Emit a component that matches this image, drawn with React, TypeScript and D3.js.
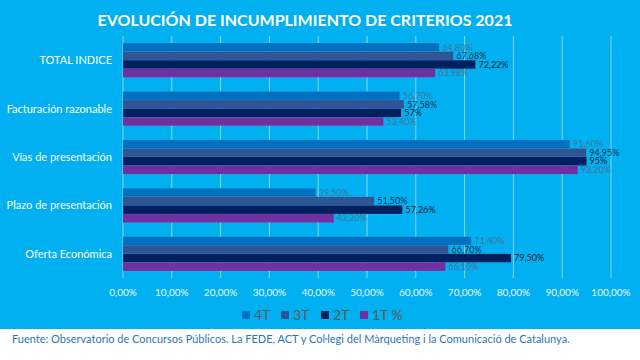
import React from "react";
import * as d3 from "d3";

const categories = [
  "TOTAL INDICE",
  "Facturación razonable",
  "Vías de presentación",
  "Plazo de presentación",
  "Oferta Económica",
];
const seriesNames = ["4T", "3T", "2T", "1T %"];
const s4T = [64.8, 56.7, 91.6, 39.5, 71.4];
const s3T = [67.68, 57.58, 94.95, 51.5, 66.7];
const s2T = [72.22, 57, 95, 57.26, 79.5];
const s1T = [63.98, 53.4, 93.2, 43.2, 66.1];
const seriesLabels4T = ["64,80%", "56,70%", "91,60%", "39,50%", "71,40%"];
const seriesLabels3T = ["67,68%", "57,58%", "94,95%", "51,50%", "66,70%"];
const seriesLabels2T = ["72,22%", "57%", "95%", "57,26%", "79,50%"];
const seriesLabels1T = ["63,98%", "53,40%", "93,20%", "43,20%", "66,10%"];
const xTicks = [0, 10, 20, 30, 40, 50, 60, 70, 80, 90, 100];

const seriesValues = [s4T, s3T, s2T, s1T];
const seriesText = [seriesLabels4T, seriesLabels3T, seriesLabels2T, seriesLabels1T];
const colors = ["#0070C0", "#2F5597", "#002060", "#7030A0"];
const labelColors = ["#44769A", "#12304F", "#0A1C33", "#44769A"];

const FONT = "Lato, 'Open Sans', sans-serif";

export default function App() {
  const x = d3.scaleLinear().domain([0, 100]).range([123, 611]);
  const y = d3
    .scaleBand<string>()
    .domain(categories)
    .range([36, 278])
    .paddingInner(0.29)
    .paddingOuter(0.145);
  const inner = d3
    .scaleBand<string>()
    .domain(seriesNames)
    .range([0, y.bandwidth()]);

  const fmt = (v: number) => d3.format(".2f")(v).replace(".", ",") + "%";

  return (
    <div style={{ position: "fixed", left: 0, top: 0 }}>
      <svg width={640} height={360} style={{ display: "block" }} fontFamily={FONT}>
        <rect x={0} y={0} width={640} height={360} fill="#ffffff" />
        <rect x={0} y={0} width={640} height={329} fill="#00B0F0" />
        <text
          x={305}
          y={26}
          textAnchor="middle"
          fill="#ffffff"
          fontWeight="bold"
          fontSize={16}
        >
          EVOLUCIÓN DE INCUMPLIMIENTO DE CRITERIOS 2021
        </text>
        {xTicks.map((t) => (
          <g key={t}>
            <line
              x1={x(t)}
              x2={x(t)}
              y1={36}
              y2={278}
              stroke="#8FD3EE"
              strokeWidth={1}
            />
            <text
              x={x(t)}
              y={296}
              textAnchor="middle"
              fill="#EAF8FF"
              fontSize={10}
            >
              {fmt(t)}
            </text>
          </g>
        ))}
        {categories.map((c, ci) => (
          <g key={c}>
            <text
              x={112}
              y={(y(c) as number) + y.bandwidth() / 2 + 4}
              textAnchor="end"
              fill="#ffffff"
              fontSize={11}
            >
              {c}
            </text>
            {seriesNames.map((s, si) => {
              const v = seriesValues[si][ci];
              const by = (y(c) as number) + (inner(s) as number);
              const bh = inner.bandwidth();
              return (
                <g key={s}>
                  <rect
                    x={x(0)}
                    y={by}
                    width={x(v) - x(0)}
                    height={bh}
                    fill={colors[si]}
                    stroke="rgba(255,255,255,0.12)"
                    strokeWidth={0.5}
                  />
                  <text
                    x={x(v) + 3}
                    y={by + bh / 2 + 3.2}
                    fill={labelColors[si]}
                    fontSize={9}
                  >
                    {seriesText[si][ci]}
                  </text>
                </g>
              );
            })}
          </g>
        ))}
        {seriesNames.map((s, si) => {
          const lx = [242, 281, 321, 360][si];
          return (
            <g key={s}>
              <rect x={lx} y={311} width={8} height={8} fill={colors[si]} />
              <text x={lx + 12} y={320} fill="#5A5A5A" fontSize={14}>
                {s}
              </text>
            </g>
          );
        })}
        <text x={12} y={343} fill="#2E75B6" fontSize={11}>
          Fuente: Observatorio de Concursos Públicos. La FEDE, ACT y Col·legi del Màrqueting i la Comunicació de Catalunya.
        </text>
      </svg>
    </div>
  );
}
